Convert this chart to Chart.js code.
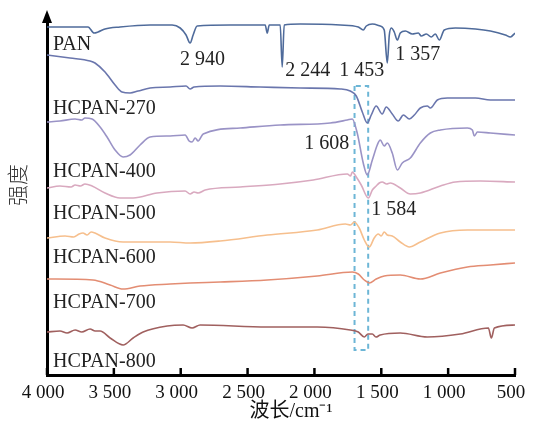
<!DOCTYPE html>
<html>
<head>
<meta charset="utf-8">
<script src="https://cdn.jsdelivr.net/npm/chart.js@4"></script>
<style>
  html, body { margin: 0; padding: 0; background: #fff; }
  canvas { display: block; }
</style>
</head>
<body>
<canvas id="ftir" width="534" height="437"></canvas>
<script>
// spectra: [wavenumber cm-1, stacked intensity (a.u.)]
const PAN = [
  [4000, 348], [3828, 348], [3693, 348], [3648, 342], [3618, 343], [3566, 346],
  [3454, 348], [3229, 350], [3064, 350], [3004, 347], [2960, 340], [2930, 332],
  [2907, 340], [2877, 349], [2630, 350], [2368, 350], [2353, 342], [2338, 350],
  [2256, 350], [2241, 308], [2226, 350], [2106, 351], [1807, 350], [1672, 348],
  [1635, 345], [1612, 349], [1567, 351], [1508, 349], [1478, 345], [1455, 312],
  [1440, 340], [1425, 347], [1403, 343], [1380, 335], [1358, 342], [1320, 344],
  [1268, 341], [1223, 342], [1201, 339], [1163, 341], [1126, 338], [1096, 341],
  [1066, 335], [1029, 345], [946, 347], [796, 346], [684, 344], [572, 340],
  [534, 338], [500, 342]
];
const HCPAN_270 = [
  [4000, 320], [3828, 317], [3678, 314], [3641, 312], [3566, 303], [3491, 290],
  [3439, 283], [3379, 282], [3319, 284], [3229, 287], [3079, 288], [2960, 289],
  [2930, 286], [2900, 288], [2705, 289], [2406, 288], [2106, 287], [1807, 286],
  [1732, 284], [1687, 279], [1642, 263], [1605, 252], [1575, 260], [1538, 269],
  [1493, 261], [1463, 268], [1418, 261], [1373, 254], [1335, 260], [1290, 256],
  [1253, 260], [1208, 267], [1156, 269], [1133, 267], [1081, 275], [1006, 277],
  [796, 277], [684, 275], [500, 275]
];
const HCPAN_400 = [
  [4000, 253], [3903, 254], [3790, 256], [3740, 255], [3716, 257], [3663, 256],
  [3603, 248], [3551, 238], [3491, 225], [3431, 218], [3379, 220], [3304, 230],
  [3229, 238], [3079, 239], [2967, 240], [2937, 234], [2915, 233], [2892, 237],
  [2870, 234], [2832, 241], [2555, 247], [2256, 250], [1882, 252], [1754, 255],
  [1717, 256], [1680, 242], [1635, 212], [1605, 200], [1567, 215], [1530, 230],
  [1508, 235], [1478, 229], [1455, 232], [1418, 222], [1380, 205], [1343, 212],
  [1283, 217], [1208, 232], [1133, 242], [1058, 245], [856, 247], [819, 245],
  [804, 239], [781, 243], [684, 242], [500, 240]
];
const HCPAN_500 = [
  [4000, 187], [3903, 189], [3820, 188], [3790, 190], [3750, 189], [3716, 191],
  [3663, 189], [3566, 182], [3454, 177], [3356, 177], [3177, 182], [2967, 184],
  [2930, 181], [2900, 183], [2870, 182], [2817, 185], [2555, 188], [2256, 191],
  [2009, 195], [1754, 201], [1730, 199], [1717, 203], [1687, 198], [1650, 190],
  [1597, 177], [1567, 185], [1538, 189], [1515, 192], [1493, 193], [1460, 191],
  [1433, 192], [1358, 187], [1283, 181], [1208, 182], [1058, 189], [946, 193],
  [759, 194], [500, 193]
];
const HCPAN_600 = [
  [4000, 137], [3865, 139], [3800, 138], [3760, 141], [3731, 142], [3700, 140],
  [3670, 143], [3641, 142], [3566, 137], [3431, 133], [3079, 133], [2930, 132],
  [2705, 134], [2353, 140], [1979, 145], [1769, 151], [1730, 150], [1702, 153],
  [1665, 147], [1627, 135], [1590, 128], [1553, 137], [1523, 141], [1500, 139],
  [1478, 143], [1455, 140], [1418, 139], [1358, 133], [1290, 128], [1208, 133],
  [1058, 142], [856, 145], [500, 145]
];
const HCPAN_700 = [
  [4000, 96], [3656, 95], [3528, 90], [3431, 86], [3304, 89], [3079, 91],
  [2930, 92], [2705, 93], [2353, 95], [1979, 99], [1717, 103], [1672, 101],
  [1627, 95], [1590, 92], [1538, 96], [1478, 99], [1358, 100], [1208, 96],
  [1058, 102], [856, 108], [684, 110], [500, 112]
];
const HCPAN_800 = [
  [4000, 43], [3903, 44], [3850, 42], [3790, 45], [3740, 43], [3678, 46],
  [3640, 44], [3603, 44], [3528, 37], [3431, 30], [3356, 37], [3281, 43],
  [3101, 49], [2982, 50], [2915, 47], [2855, 50], [2353, 48], [1979, 48],
  [1732, 45], [1672, 43], [1627, 38], [1600, 41], [1567, 41], [1540, 38],
  [1508, 40], [1358, 42], [1156, 38], [909, 41], [699, 47], [677, 37],
  [654, 47], [500, 50]
];

// region marked round the C=C / C=N bands
const boxWn = [1700, 1598];
const boxLevels = [25, 289];

const seriesNames = ["PAN", "HCPAN-270", "HCPAN-400", "HCPAN-500", "HCPAN-600", "HCPAN-700", "HCPAN-800"];
const seriesData = [PAN, HCPAN_270, HCPAN_400, HCPAN_500, HCPAN_600, HCPAN_700, HCPAN_800];
const seriesColors = ["#4f6b9b", "#6a76ad", "#9a93c6", "#d9a9bf", "#f6bf8d", "#e38d73", "#a0605f"];

const xTicks = [4000, 3500, 3000, 2500, 2000, 1500, 1000, 500];

// text labels: [text, wavenumber, level]
const notes = [
  ["PAN", 3955, 325], ["2 940", 3005, 310], ["2 244", 2219, 299], ["1 453", 1814, 299],
  ["1 357", 1395, 315], ["HCPAN-270", 3955, 261], ["1 608", 2076, 226],
  ["HCPAN-400", 3955, 198], ["1 584", 1575, 160], ["HCPAN-500", 3955, 156],
  ["HCPAN-600", 3955, 112], ["HCPAN-700", 3955, 67], ["HCPAN-800", 3955, 8]
];

const serif = "'Liberation Serif', 'Times New Roman', 'Noto Sans CJK SC', serif";

const datasets = seriesNames.map((name, i) => ({
  label: name,
  data: seriesData[i],
  borderColor: seriesColors[i],
  borderWidth: 1.6,
  pointRadius: 0,
  cubicInterpolationMode: "monotone",
  fill: false
}));

datasets.push({
  label: "box",
  data: [
    [boxWn[0], boxLevels[1]], [boxWn[0], boxLevels[0]], [boxWn[1], boxLevels[0]],
    [boxWn[1], boxLevels[1]], [boxWn[0], boxLevels[1]]
  ],
  borderColor: "#6db6d6",
  borderWidth: 2,
  borderDash: [5, 4],
  pointRadius: 0,
  tension: 0,
  fill: false
});

// arrow on y axis, inward tick marks, peak / sample labels
const decor = {
  id: "decor",
  afterDraw(chart) {
    const ctx = chart.ctx;
    const xs = chart.scales.x, ys = chart.scales.y;
    const area = chart.chartArea;
    ctx.save();
    ctx.fillStyle = "#000";
    ctx.beginPath();
    ctx.moveTo(area.left, 10);
    ctx.lineTo(area.left - 5, 23);
    ctx.lineTo(area.left + 5, 23);
    ctx.closePath();
    ctx.fill();

    ctx.strokeStyle = "#000";
    ctx.lineWidth = 2.5;
    xTicks.forEach(v => {
      const px = xs.getPixelForValue(v);
      ctx.beginPath();
      ctx.moveTo(px, area.bottom);
      ctx.lineTo(px, area.bottom - 7);
      ctx.stroke();
    });

    ctx.font = "20px " + serif;
    ctx.fillStyle = "#222";
    ctx.textAlign = "left";
    ctx.textBaseline = "alphabetic";
    notes.forEach(([t, wn, lv]) => {
      ctx.fillText(t, xs.getPixelForValue(wn), ys.getPixelForValue(lv));
    });
    ctx.restore();
  }
};

new Chart(document.getElementById("ftir"), {
  type: "line",
  data: { datasets: datasets },
  options: {
    responsive: false,
    animation: false,
    layout: { padding: { top: 20, right: 19, bottom: 0, left: 0 } },
    plugins: { legend: { display: false }, tooltip: { enabled: false } },
    scales: {
      x: {
        type: "linear",
        reverse: true,
        min: 500,
        max: 4000,
        afterBuildTicks(scale) {
          scale.ticks = xTicks.map(v => ({ value: v }));
        },
        afterFit(scale) {
          scale.height = 62;
          scale.paddingLeft = 0;
          scale.paddingRight = 0;
        },
        grid: { display: false, drawTicks: false },
        border: { display: true, color: "#000", width: 3 },
        ticks: {
          padding: 7,
          labelOffset: -4,
          color: "#111",
          font: { family: serif, size: 19 },
          maxRotation: 0,
          autoSkip: false,
          callback: v => v >= 1000 ? Math.floor(v / 1000) + " " + String(v % 1000).padStart(3, "0") : String(v)
        },
        title: {
          display: true,
          text: "\u2002\u2002波长/cm⁻¹",
          color: "#111",
          font: { family: serif, size: 20 },
          padding: { top: 0, bottom: 13 }
        }
      },
      y: {
        min: 0,
        max: 355,
        afterFit(scale) {
          scale.width = 47;
        },
        grid: { display: false, drawTicks: false },
        border: { display: true, color: "#000", width: 3 },
        ticks: { display: false },
        title: {
          display: true,
          text: "\u2002\u2002\u2009强度",
          color: "#333",
          font: { family: serif, size: 21, weight: "300" },
          padding: { top: 7, bottom: 0 }
        }
      }
    }
  },
  plugins: [decor]
});
</script>
</body>
</html>
